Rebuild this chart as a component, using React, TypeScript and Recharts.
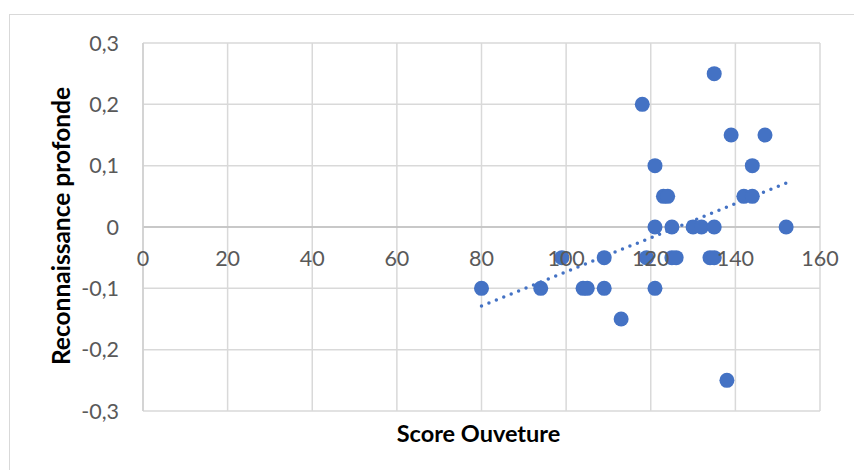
import React from "react";
import {
  ScatterChart,
  Scatter,
  XAxis,
  YAxis,
  CartesianGrid,
  ReferenceLine,
  Label,
} from "recharts";

// Score Ouveture (x) / Reconnaissance profonde (y)
const scoreOuverture = [
  135, 118, 139, 147, 121, 144, 123, 124, 142, 144,
  121, 125, 130, 132, 135, 152,
  99, 109, 119, 125, 126, 134, 135,
  80, 94, 104, 105, 109, 121,
  113, 138,
];
const reconnaissance = [
  0.25, 0.2, 0.15, 0.15, 0.1, 0.1, 0.05, 0.05, 0.05, 0.05,
  0, 0, 0, 0, 0, 0,
  -0.05, -0.05, -0.05, -0.05, -0.05, -0.05, -0.05,
  -0.1, -0.1, -0.1, -0.1, -0.1, -0.1,
  -0.15, -0.25,
];
const xTicks = [0, 20, 40, 60, 80, 100, 120, 140, 160];
const yTicks = [-0.3, -0.2, -0.1, 0, 0.1, 0.2, 0.3];

const BLUE = "#4472C4";
const GRID = "#d9d9d9";
const TEXT = "#595959";
const FONT = "Lato, 'Noto Sans', sans-serif";

const points = scoreOuverture.map((x, i) => ({ x, y: reconnaissance[i] }));

// linear trend (least squares), like Excel's trendline
const n = points.length;
const mx = scoreOuverture.reduce((a, b) => a + b, 0) / n;
const my = reconnaissance.reduce((a, b) => a + b, 0) / n;
let sxy = 0;
let sxx = 0;
points.forEach((p) => {
  sxy += (p.x - mx) * (p.y - my);
  sxx += (p.x - mx) * (p.x - mx);
});
const slope = sxy / sxx;
const intercept = my - slope * mx;
const xMin = Math.min(...scoreOuverture);
const xMax = Math.max(...scoreOuverture);
const trend = [
  { x: xMin, y: intercept + slope * xMin },
  { x: xMax, y: intercept + slope * xMax },
];

const PLOT_H = 368;
const fmt = (v: number) => String(v).replace(".", ",");

const XTick = (props: any) => {
  const { x, y, payload } = props;
  return (
    <text
      x={x}
      y={y - PLOT_H / 2 + 31}
      textAnchor="middle"
      dominantBaseline="central"
      fill={TEXT}
      fontSize={21.5}
      fontFamily={FONT}
    >
      {payload.value}
    </text>
  );
};

const Dot = (props: any) => (
  <circle cx={props.cx} cy={props.cy} r={7.5} fill={BLUE} />
);

export default function App() {
  return (
    <div
      style={{
        position: "absolute",
        left: 9,
        top: 14,
        width: 870,
        height: 470,
        border: `1px solid ${GRID}`,
        background: "#fff",
      }}
    >
      <ScatterChart
        width={870}
        height={470}
        margin={{ top: 28, right: 60, bottom: 44, left: 63 }}
      >
        <CartesianGrid stroke={GRID} strokeWidth={1.5} />
        <XAxis
          type="number"
          dataKey="x"
          domain={[0, 160]}
          ticks={xTicks}
          tick={<XTick />}
          tickLine={false}
          axisLine={false}
          tickSize={0}
          tickMargin={0}
          height={30}
          interval={0}
        >
          <Label
            content={(p: any) => (
              <text
                x={p.viewBox.x + p.viewBox.width / 2 - 3}
                y={p.viewBox.y + 22}
                textAnchor="middle"
                dominantBaseline="central"
                fontSize={23.5}
                fontWeight="bold"
                fontFamily={FONT}
                fill="#000"
              >
                Score Ouveture
              </text>
            )}
          />
        </XAxis>
        <YAxis
          type="number"
          dataKey="y"
          domain={[-0.3, 0.3]}
          ticks={yTicks}
          tickFormatter={fmt}
          tick={{ fill: TEXT, fontSize: 21.5, fontFamily: FONT }}
          tickLine={false}
          tickSize={0}
          tickMargin={24}
          axisLine={{ stroke: "#cfcfcf", strokeWidth: 1.5 }}
          width={70}
          interval={0}
        >
          <Label
            content={(p: any) => {
              const cx = p.viewBox.x - 13;
              const cy = p.viewBox.y + p.viewBox.height / 2 - 1;
              return (
                <text
                  x={cx}
                  y={cy}
                  transform={`rotate(-90 ${cx} ${cy})`}
                  textAnchor="middle"
                  dominantBaseline="central"
                  fontSize={24.5}
                  fontWeight="bold"
                  fontFamily={FONT}
                  fill="#000"
                >
                  Reconnaissance profonde
                </text>
              );
            }}
          />
        </YAxis>
        <ReferenceLine y={0} stroke="#bfbfbf" strokeWidth={1.5} />
        <ReferenceLine
          segment={trend}
          stroke={BLUE}
          strokeWidth={3.5}
          strokeDasharray="0 8"
          strokeLinecap="round"
          ifOverflow="visible"
        />
        <Scatter data={points} shape={<Dot />} isAnimationActive={false} />
      </ScatterChart>
    </div>
  );
}
